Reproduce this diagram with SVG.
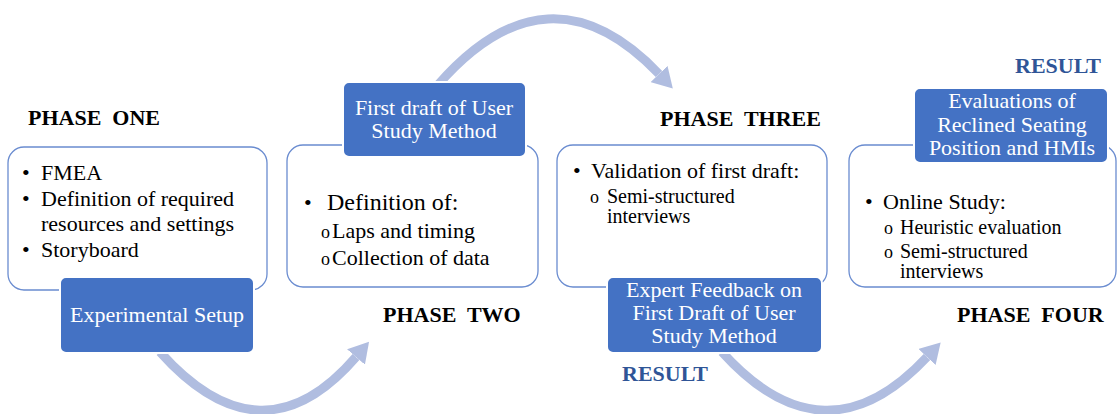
<svg xmlns="http://www.w3.org/2000/svg" width="1119" height="414" viewBox="0 0 1119 414" font-family="Liberation Serif, Times New Roman, serif">
<style>
text{font-family:'Liberation Serif','Times New Roman',serif;fill:#000}
.frame{fill:#fff;stroke:#6A8CD0;stroke-width:1.3}
.blue{fill:#4472C4;stroke:#fff;stroke-width:2}
.bt{fill:#fff;font-size:22px;text-anchor:middle}
.ph{font-size:22px;font-weight:bold;white-space:pre}
.res{font-size:22px;font-weight:bold;fill:#2F5597}
.b1{font-size:22px}
.b2{font-size:20px}
.o{font-size:18px}
.arc{fill:none;stroke:#B0BDE0;stroke-width:9}
</style>
<defs>
<marker id="ah" markerUnits="userSpaceOnUse" markerWidth="20" markerHeight="24" refX="0" refY="10" orient="auto" viewBox="0 0 17 20">
<path d="M0,0 L17,10 L0,20 Z" fill="#B0BDE0"/>
</marker>
</defs>
<rect width="1119" height="414" fill="#fff"/>
<g id="connectors">
<path class="arc" d="M 160 352 Q 262 466 356 357" marker-end="url(#ah)"/>
<path class="arc" d="M 437 86 Q 548 -42 659 74" marker-end="url(#ah)"/>
<path class="arc" d="M 722 352 Q 825 466 927 357" marker-end="url(#ah)"/>
</g>
<g id="phase-one">
<text class="ph" x="28" y="125">PHASE  ONE</text>
<rect class="frame" x="8" y="147" width="259" height="143" rx="16"/>
<text class="b1" x="22" y="180">•</text><text class="b1" x="41" y="180">FMEA</text>
<text class="b1" x="22" y="206">•</text><text class="b1" x="41" y="206">Definition of required</text>
<text class="b1" x="41" y="231">resources and settings</text>
<text class="b1" x="22" y="257">•</text><text class="b1" x="41" y="257">Storyboard</text>
<g id="experimental-setup">
<rect class="blue" x="60" y="277" width="194" height="76" rx="6"/>
<text class="bt" x="157" y="322">Experimental Setup</text>
</g>
</g>
<g id="phase-two">
<rect class="frame" x="287" y="145" width="251" height="142" rx="16"/>
<text class="b1" x="304" y="210">•</text><text x="327" y="210" style="font-size:24px">Definition of:</text>
<text class="o" x="321" y="238">o</text><text class="b1" x="332" y="238">Laps and timing</text>
<text class="o" x="321" y="265">o</text><text class="b1" x="332" y="265">Collection of data</text>
<text class="ph" x="383" y="322">PHASE  TWO</text>
<g id="first-draft">
<rect class="blue" x="343" y="82" width="183" height="75" rx="6"/>
<text class="bt" x="434" y="115">First draft of User</text>
<text class="bt" x="434" y="138">Study Method</text>
</g>
</g>
<g id="phase-three">
<text class="ph" x="660" y="126">PHASE  THREE</text>
<rect class="frame" x="557" y="145" width="270" height="142" rx="16"/>
<text class="b1" x="573" y="178">•</text><text class="b1" x="591" y="178">Validation of first draft:</text>
<text class="o" x="590" y="203">o</text><text class="b2" x="607" y="203">Semi-structured</text>
<text class="b2" x="607" y="223">interviews</text>
<g id="expert-feedback">
<rect class="blue" x="607" y="277" width="215" height="76" rx="6"/>
<text class="bt" x="714" y="297">Expert Feedback on</text>
<text class="bt" x="714" y="320">First Draft of User</text>
<text class="bt" x="714" y="343">Study Method</text>
</g>
<text class="res" x="622" y="381">RESULT</text>
</g>
<g id="phase-four">
<text class="res" x="1015" y="73">RESULT</text>
<rect class="frame" x="849" y="145" width="267" height="142" rx="16"/>
<text class="b1" x="865" y="209">•</text><text class="b1" x="883" y="209">Online Study:</text>
<text class="o" x="884" y="234">o</text><text class="b2" x="900" y="234">Heuristic evaluation</text>
<text class="o" x="884" y="258">o</text><text class="b2" x="900" y="258">Semi-structured</text>
<text class="b2" x="900" y="278">interviews</text>
<text class="ph" x="957" y="322">PHASE  FOUR</text>
<g id="evaluations">
<rect class="blue" x="914" y="88" width="194" height="75" rx="6"/>
<text class="bt" x="1012" y="108">Evaluations of</text>
<text class="bt" x="1012" y="132">Reclined Seating</text>
<text class="bt" x="1012" y="155">Position and HMIs</text>
</g>
</g>
</svg>
